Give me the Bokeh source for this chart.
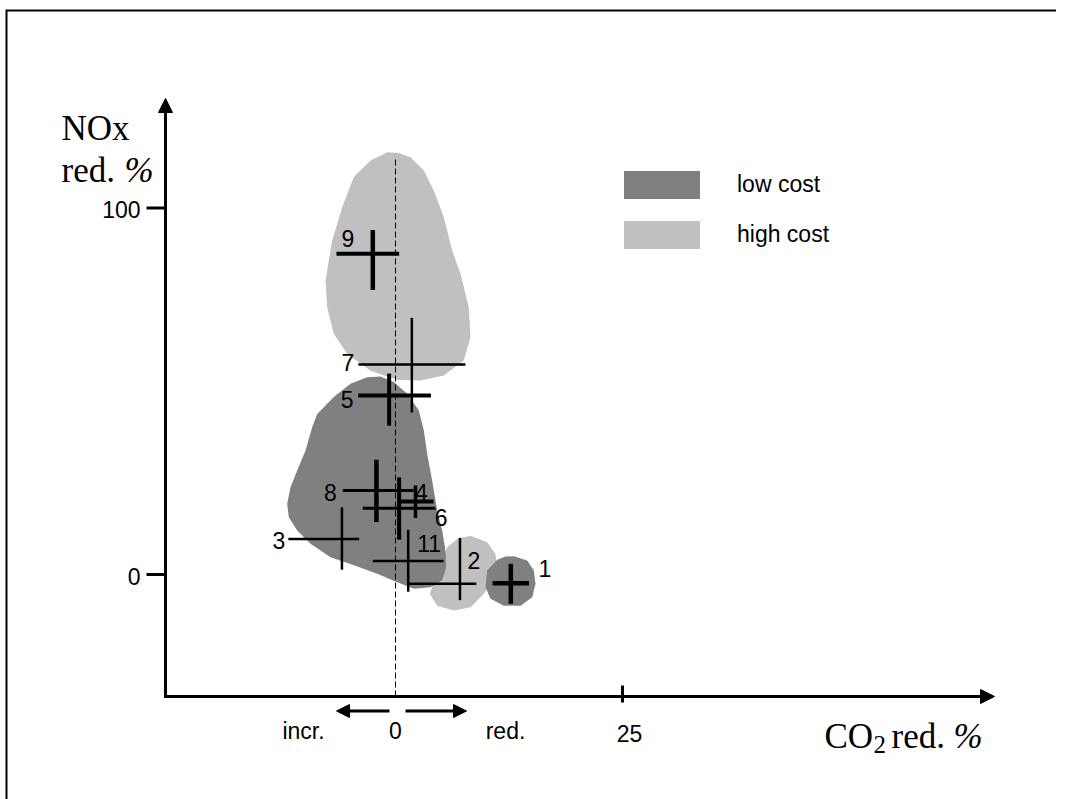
from bokeh.plotting import figure
from bokeh.models import (Range1d, Arrow, NormalHead, Label, Legend, LegendItem,
                          ColumnDataSource)
from bokeh.core.properties import value
from bokeh.embed import file_html
from bokeh.resources import INLINE

# ---------------- data ----------------
cross_id = ["1", "2", "3", "4", "5", "6", "7", "8", "9", "11"]
co2      = [12.7, 7.1, -5.9, 2.2, -0.7, 0.4, 1.8, -2.1, -2.5, 1.4]
co2_lo   = [10.7, 1.3, -11.8, 0.3, -4.1, -3.6, -4.1, -5.8, -6.5, -2.5]
co2_hi   = [14.7, 8.9, -4.0, 4.2, 3.9, 4.4, 7.7, 2.0, 0.4, 5.3]
nox      = [-2.4, -2.5, 9.7, 19.9, 48.8, 18.1, 57.3, 22.9, 87.5, 3.7]
nox_lo   = [-8.0, -7.0, 1.3, 15.4, 40.6, 9.5, 44.2, 14.3, 77.6, -4.7]
nox_hi   = [2.9, 10.0, 18.3, 24.3, 54.8, 26.5, 70.0, 31.3, 94.0, 12.2]

# cost regions (outlines in CO2 % / NOx % units)
high_big_x = [-0.91, -2.75, -4.59, -5.87, -6.97, -7.71, -7.52, -6.80, -5.32, -2.75, 0.19, 2.75,
              5.32, 7.52, 8.26, 8.07, 7.16, 6.24, 5.32, 4.22, 3.12, 1.65, 0.36]
high_big_y = [115.2, 112.9, 108.4, 100.2, 91.1, 80.2, 72.9, 65.7, 60.2, 55.6, 53.1, 52.9,
              54.3, 58.4, 64.7, 72.9, 82.0, 88.4, 97.5, 104.7, 110.2, 113.8, 115.0]
high_small_x = [8.26, 10.10, 11.01, 11.20, 10.65, 9.72, 8.26, 6.42, 4.59, 3.78, 4.22, 4.96, 5.69, 6.80]
high_small_y = [10.6, 8.8, 5.6, 2.0, -1.6, -5.3, -8.9, -9.8, -8.5, -5.3, -1.6, 1.1, 7.4, 9.7]
low_big_x = [-3.12, -4.96, -6.80, -8.62, -9.17, -9.91, -10.83, -11.56, -11.93, -11.75, -10.83,
             -9.36, -7.16, -4.59, -2.02, 0.19, 2.02, 3.85, 5.14, 5.58, 5.51, 5.14, 4.59, 4.04,
             3.49, 3.12, 2.57, 1.29, -0.19, -1.65]
low_big_y = [53.8, 52.0, 48.4, 43.8, 40.2, 33.8, 28.4, 23.8, 19.3, 15.6, 12.0, 8.4, 4.7, 2.5,
             0.2, -2.1, -3.9, -3.5, -1.6, 2.0, 6.5, 12.0, 17.5, 25.6, 32.9, 39.3, 44.7, 49.3,
             52.5, 54.0]
low_small_x = [13.03, 14.50, 15.23, 15.42, 15.06, 13.77, 11.93, 10.46, 9.91, 10.10, 11.20, 12.11]
low_small_y = [5.0, 3.8, 1.1, -2.5, -6.2, -8.5, -8.5, -6.6, -3.5, 1.1, 4.0, 4.9]

legend_labels = ["low cost", "high cost"]
y_ticks = [0, 100]
y_tick_labels = ["0", "100"]
x_ticks = [0, 25]
x_tick_labels = ["0", "25"]

# ---------------- styles ----------------
bar_h_width = [4.5, 2.5, 2.5, 4.0, 4.0, 3.0, 2.5, 3.0, 4.0, 2.5]
bar_v_width = [4.5, 2.5, 2.5, 3.5, 4.0, 4.0, 2.5, 4.5, 4.5, 2.5]
lab_dx = [34, 14, -63, 6, -42, 42, -64, -46, -25, 21]
lab_dy = [-15, -23, 2, -9, 4, 9, -2, 2, -15, -17]
DARK, LIGHT = "#808080", "#c0c0c0"
SANS, SERIF = "Liberation Sans", "Liberation Serif"
FS = "23px"

W, H = 1056, 799
SX, SY = 9.0801, 3.6662          # px per data unit
X0 = -395.0 / SX                 # data x at left edge
Y1 = 574.0 / SY                  # data y at top edge
X1 = X0 + W / SX
Y0 = Y1 - H / SY


def dx(px):
    return X0 + px / SX


def dy(py):
    return Y1 - py / SY


p = figure(width=W, height=H, x_range=Range1d(X0, X1), y_range=Range1d(Y0, Y1),
           output_backend="svg", toolbar_location=None, min_border=0,
           x_axis_type=None, y_axis_type=None, outline_line_color=None,
           background_fill_color="white", border_fill_color="white")

# outer frame (top and left edges)
p.line(x=[dx(6), dx(6), dx(W)], y=[dy(H), dy(10), dy(10)],
       line_color="black", line_width=2, line_join="miter")

# regions
r_high = p.patches(xs=[high_big_x, high_small_x], ys=[high_big_y, high_small_y],
                   fill_color=LIGHT, line_color=None)
r_low = p.patches(xs=[low_big_x, low_small_x], ys=[low_big_y, low_small_y],
                  fill_color=DARK, line_color=None)

# axes geometry (screen positions)
AX_X, AX_Y = dx(165), dy(696)
# dashed zero line
p.segment(x0=[0], y0=[AX_Y], x1=[0], y1=[dy(159)], line_color="black",
          line_width=1, line_dash="6 3")

# crosses
src = ColumnDataSource(dict(id=cross_id, co2=co2, co2_lo=co2_lo, co2_hi=co2_hi,
                            nox=nox, nox_lo=nox_lo, nox_hi=nox_hi,
                            hw=bar_h_width, vw=bar_v_width, ldx=lab_dx, ldy=lab_dy))
p.segment(x0="co2_lo", y0="nox", x1="co2_hi", y1="nox", line_width="hw",
          line_color="black", source=src)
p.segment(x0="co2", y0="nox_lo", x1="co2", y1="nox_hi", line_width="vw",
          line_color="black", source=src)
p.text(x="co2", y="nox", text="id", x_offset="ldx", y_offset="ldy", source=src,
       text_align="center", text_baseline="middle", text_font=value(SANS),
       text_font_size=FS, text_color="black")

# axes with arrow heads
p.add_layout(Arrow(end=NormalHead(size=14, fill_color="black", line_color="black", line_width=1),
                   x_start=AX_X, y_start=AX_Y - 1.5 / SY, x_end=AX_X, y_end=dy(98),
                   line_width=3, line_color="black"))
p.add_layout(Arrow(end=NormalHead(size=14, fill_color="black", line_color="black", line_width=1),
                   x_start=AX_X - 1.5 / SX, y_start=AX_Y, x_end=dx(994), y_end=AX_Y,
                   line_width=3, line_color="black"))

# ticks
p.segment(x0=[AX_X - 19 / SX] * len(y_ticks), y0=y_ticks, x1=[AX_X] * len(y_ticks), y1=y_ticks,
          line_width=3, line_color="black")
p.text(x=[AX_X] * len(y_ticks), y=y_ticks, text=y_tick_labels, x_offset=-25, y_offset=2,
       text_align="right", text_baseline="middle", text_font=value(SANS),
       text_font_size=FS, text_color="black")
p.segment(x0=x_ticks[1:], y0=[AX_Y + 11 / SY], x1=x_ticks[1:], y1=[AX_Y - 6 / SY],
          line_width=3, line_color="black")
p.text(x=x_ticks, y=[AX_Y] * len(x_ticks), text=x_tick_labels, x_offset=[0, 7], y_offset=[34, 37],
       text_align="center", text_baseline="middle", text_font=value(SANS),
       text_font_size=FS, text_color="black")

# direction arrows under x axis
p.add_layout(Arrow(end=NormalHead(size=13, fill_color="black", line_color="black", line_width=1),
                   x_start=dx(389), y_start=dy(710.5), x_end=dx(336), y_end=dy(710.5),
                   line_width=3, line_color="black"))
p.add_layout(Arrow(end=NormalHead(size=13, fill_color="black", line_color="black", line_width=1),
                   x_start=dx(405), y_start=dy(710.5), x_end=dx(466), y_end=dy(710.5),
                   line_width=3, line_color="black"))


def lab(text, px, py, font=SANS, size=FS, align="left", baseline="alphabetic", style="normal"):
    p.add_layout(Label(x=px, y=H - py, x_units="screen", y_units="screen", text=text,
                       text_font=font, text_font_size=size, text_align=align,
                       text_baseline=baseline, text_font_style=style, text_color="black"))


lab("incr.", 303, 730, align="center", baseline="middle")
lab("red.", 505, 730, align="center", baseline="middle")

# axis titles
lab("NOx", 61, 128, font=SERIF, size="35px")
lab("red.", 61, 170, font=SERIF, size="35px")
lab("%", 124, 170, font=SERIF, size="35px", style="italic")
lab("CO", 824, 736, font=SERIF, size="35px")
lab("2", 873, 744, font=SERIF, size="25px")
lab("red.", 891, 736, font=SERIF, size="35px")
lab("%", 953, 736, font=SERIF, size="35px", style="italic")

# legend
legend = Legend(items=[LegendItem(label=legend_labels[0], renderers=[r_low]),
                       LegendItem(label=legend_labels[1], renderers=[r_high])],
                location=(614, H - 166.7 - 85), orientation="vertical",
                glyph_width=95, glyph_height=35, label_standoff=28, spacing=15,
                padding=0, margin=0, border_line_color=None, background_fill_alpha=0,
                label_text_font=SANS, label_text_font_size=FS, label_text_color="black")
p.add_layout(legend)

open("out.html", "w").write(file_html(p, INLINE))
